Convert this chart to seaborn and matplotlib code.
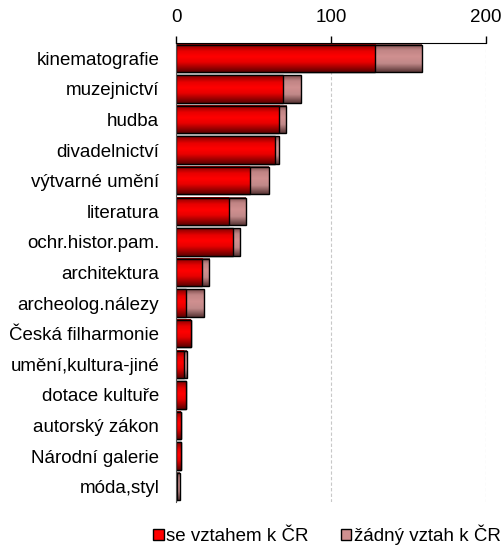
import numpy as np
import pandas as pd
import matplotlib
matplotlib.use("Agg")
import matplotlib.pyplot as plt
from matplotlib.colors import LinearSegmentedColormap
from matplotlib.patches import Patch
import seaborn as sns

# data
categories = ["kinematografie", "muzejnictví", "hudba", "divadelnictví",
              "výtvarné umění", "literatura", "ochr.histor.pam.", "architektura",
              "archeolog.nálezy", "Česká filharmonie", "umění,kultura-jiné",
              "dotace kultuře", "autorský zákon", "Národní galerie", "móda,styl"]
se_vztahem = [128.5, 69, 66.5, 64, 47.5, 34, 36.5, 17, 6.5, 9.5, 5, 6.5, 3, 3, 0.5]
zadny_vztah = [30, 11.5, 4.5, 2.5, 12.5, 11, 4.5, 4.5, 11.5, 0, 2, 0, 0, 0, 2]
ticks = [0, 100, 200]
labels = ["se vztahem k ČR", "žádný vztah k ČR"]

red = "#ff0000"
pink = "#d09090"

sns.set_style("white")
plt.rcParams["font.family"] = ["Liberation Sans", "DejaVu Sans"]
plt.rcParams["text.color"] = "black"

df = pd.DataFrame({"kategorie": categories,
                   "se": se_vztahem,
                   "total": np.array(se_vztahem) + np.array(zadny_vztah)})

fig, ax = plt.subplots(figsize=(5.02, 5.49), dpi=100)
fig.subplots_adjust(left=176/502, right=486/502, top=1-43/549, bottom=1-502/549)

sns.barplot(data=df, x="total", y="kategorie", color=pink, width=0.9,
            edgecolor="black", linewidth=1, saturation=1, ax=ax)
sns.barplot(data=df, x="se", y="kategorie", color=red, width=0.9,
            edgecolor="black", linewidth=1, saturation=1, ax=ax)

# vertical gradient shading like the original (Excel) bars
grad = np.linspace(0, 1, 60).reshape(-1, 1)
cmaps = {"pink": LinearSegmentedColormap.from_list(
             "p", [(0, "#7a4a4a"), (0.2, "#c08484"), (0.45, pink), (0.7, "#c08888"), (1, "#5a3636")]),
         "red": LinearSegmentedColormap.from_list(
             "r", [(0, "#800000"), (0.25, "#e80000"), (0.45, red), (0.65, "#e80000"), (1, "#600000")])}
n = len(categories)
for i, p in enumerate(list(ax.patches)):
    x0, y0 = p.get_x(), p.get_y()
    w, h = p.get_width(), p.get_height()
    if w <= 0:
        continue
    cm = cmaps["pink"] if i < n else cmaps["red"]
    z = 2 if i < n else 2.2
    ax.imshow(grad, cmap=cm, vmin=0, vmax=1, aspect="auto",
              extent=[x0, x0 + w, y0 + h, y0], zorder=z, interpolation="bilinear")
    p.set_facecolor("none")
    p.set_zorder(z + 0.1)

ax.set_xlim(0, 200)
ax.set_ylim(n - 0.5, -0.5)

ax.xaxis.tick_top()
ax.set_xticks(ticks)
ax.set_xlabel("")
ax.set_ylabel("")
ax.tick_params(axis="x", direction="out", length=5, width=1, colors="black",
               labelsize=13.5, pad=7)
ax.tick_params(axis="y", which="major", length=0, labelsize=13.5, pad=12,
               labelcolor="black")
ax.set_yticks(np.arange(n + 1) - 0.5, minor=True)
ax.tick_params(axis="y", which="minor", direction="out", length=6, width=1, color="#555555")

ax.grid(axis="x", color="#c8c8c8", linestyle=(0, (3, 2)), linewidth=0.8)
ax.set_axisbelow(True)
for s in ["right", "bottom"]:
    ax.spines[s].set_visible(False)
ax.spines["top"].set_color("black")
ax.spines["top"].set_zorder(5)
ax.spines["left"].set_color("#555555")

handles = [Patch(facecolor=red, edgecolor="black"), Patch(facecolor=pink, edgecolor="black")]
fig.legend(handles, labels, loc="center", bbox_to_anchor=(327/502, 1-535/549), ncol=2,
           frameon=False, fontsize=13.5, handlelength=0.55, handleheight=0.55,
           handletextpad=0.15, columnspacing=1.7, labelcolor="black")

fig.savefig("out.png", dpi=100)
